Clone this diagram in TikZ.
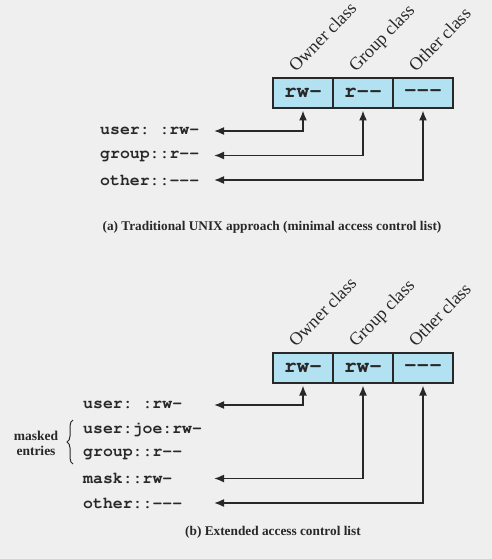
\documentclass[tikz,border=0pt]{standalone}
\usepackage{fontspec}
\setmainfont{Liberation Serif}
\usetikzlibrary{arrows.meta}
\usetikzlibrary{positioning}
\usetikzlibrary{decorations.pathreplacing}

\definecolor{bg}{RGB}{239,239,239}
\definecolor{cellblue}{RGB}{178,226,242}
\definecolor{ink}{RGB}{40,40,40}
\newcommand{\courierbf}{\fontencoding{T1}\fontfamily{pcr}\fontseries{b}\fontshape{n}\frenchspacing}

\begin{document}
\begin{tikzpicture}[x=1pt, y=-1pt, color=ink,
    cell/.style = {draw=ink, fill=cellblue, line width=1.5pt, minimum width=60pt,
        minimum height=30pt, inner sep=0pt, outer sep=0pt,
        font=\courierbf\fontsize{21}{21}\selectfont},
    entry/.style = {anchor=west, inner sep=0pt, font=\courierbf\fontsize{16.5}{16.5}\selectfont},
    classlbl/.style = {anchor=base west, rotate=46, inner sep=0pt, font=\fontsize{18}{18}\selectfont},
    caption/.style = {font=\fontsize{13.3}{13.3}\selectfont\bfseries},
    link/.style = {{Latex[length=10pt,width=8pt]}-{Latex[length=10pt,width=8pt]}, line width=1.6pt,
        shorten >=2.5pt}]
    \fill[bg] (0,0) rectangle (492,559);
    \useasboundingbox (0,0) rectangle (492,559);
    % (a) minimal ACL
    \node[cell] (ownA) at (303,93) {rw-};
    \node[cell, right=0pt of ownA] (grpA) {r-{}-};
    \node[cell, right=0pt of grpA] (othA) {-{}-{}-};
    \node[classlbl] at ([xshift=-7pt,yshift=5pt]ownA.north) {Owner class};
    \node[classlbl] at ([xshift=-7pt,yshift=5pt]grpA.north) {Group class};
    \node[classlbl] at ([xshift=-7pt,yshift=5pt]othA.north) {Other class};
    \node[entry] (userA) at (100,131) {user: :rw-};
    \node[entry] (groupA) at (100,155.5) {group::r-{}-};
    \node[entry] (otherA) at (100,180) {other::-{}-{}-};
    \coordinate (tipA) at (214,131);
    \draw[link] (tipA |- userA) -| (ownA.south);
    \draw[link] (tipA |- groupA) -| (grpA.south);
    \draw[link] (tipA |- otherA) -| (othA.south);
    \node[caption] (capA) at (272,227) {(a) Traditional UNIX approach (minimal access control list)};
    % (b) extended ACL
    \node[cell] (ownB) at (303,368) {rw-};
    \node[cell, right=0pt of ownB] (grpB) {rw-};
    \node[cell, right=0pt of grpB] (othB) {-{}-{}-};
    \node[classlbl] at ([xshift=-7pt,yshift=5pt]ownB.north) {Owner class};
    \node[classlbl] at ([xshift=-7pt,yshift=5pt]grpB.north) {Group class};
    \node[classlbl] at ([xshift=-7pt,yshift=5pt]othB.north) {Other class};
    \node[entry] (userB) at (83,405) {user: :rw-};
    \node[entry] (joeB) at (83,429.5) {user:joe:rw-};
    \node[entry] (groupB) at (83,454) {group::r-{}-};
    \node[entry] (maskB) at (83,478.5) {mask::rw-};
    \node[entry] (otherB) at (83,503) {other::-{}-{}-};
    \coordinate (tipB) at (214,405);
    \draw[link] (tipB |- userB) -| (ownB.south);
    \draw[link] (tipB |- maskB) -| (grpB.south);
    \draw[link] (tipB |- otherB) -| (othB.south);
    \draw[line width=1pt, decorate, decoration={brace, amplitude=6pt}] (73,464) -- (73,420);
    \node[align=center, font=\fontsize{13.5}{15}\selectfont\bfseries] (masked) at (36,443) {masked\\entries};
    \node[caption] (capB) at (273,532) {(b) Extended access control list};
\end{tikzpicture}
\end{document}
